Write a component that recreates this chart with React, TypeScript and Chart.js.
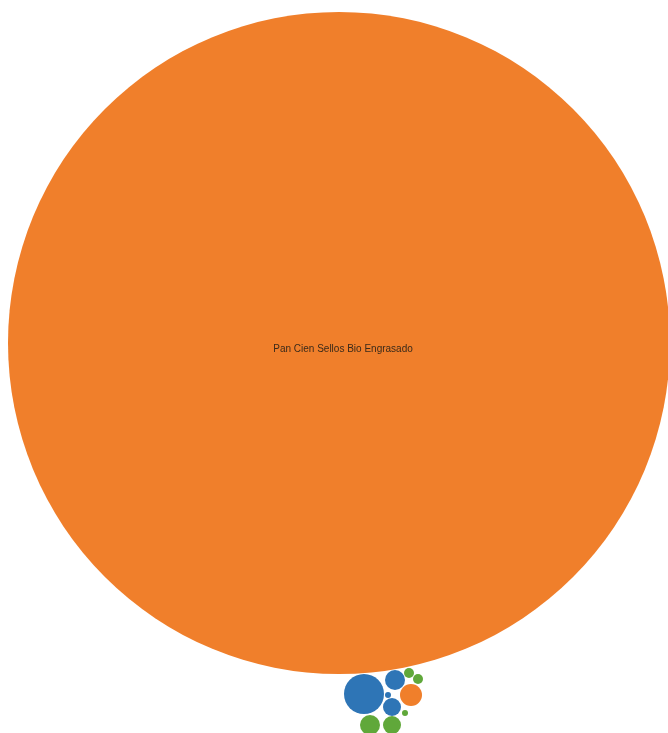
import React, { useEffect, useRef } from "react";
import { Chart, registerables } from "chart.js";

Chart.register(...registerables);

// Packed bubble layout (x, y in layout units, r = bubble radius)
const orangeNames = ["Pan Cien Sellos Bio Engrasado", "Orange 2"];
const orangeX = [331, 403];
const orangeY = [335, 687];
const orangeR = [331, 11];

const blueNames = ["Blue 1", "Blue 2", "Blue 3", "Blue 4"];
const blueX = [356, 387, 384, 380];
const blueY = [686, 672, 699, 687];
const blueR = [20, 10, 9, 3];

const greenNames = ["Green 1", "Green 2", "Green 3", "Green 4", "Green 5"];
const greenX = [401, 410, 362, 384, 397];
const greenY = [665, 671, 717, 717, 705];
const greenR = [5, 5, 10, 9, 3];

const labelled = ["Pan Cien Sellos Bio Engrasado"];

const mk = (xs: number[], ys: number[], rs: number[]) =>
  xs.map((x, i) => ({ x, y: ys[i], r: rs[i] }));

export default function App() {
  const ref = useRef<HTMLCanvasElement>(null);
  useEffect(() => {
    if (!ref.current) return;
    const labelPlugin = {
      id: "bubbleLabels",
      afterDatasetsDraw(chart: any) {
        const ctx = chart.ctx;
        const sets = [orangeNames, blueNames, greenNames];
        chart.data.datasets.forEach((ds: any, di: number) => {
          const meta = chart.getDatasetMeta(di);
          meta.data.forEach((el: any, i: number) => {
            const name = sets[di][i];
            if (!labelled.includes(name)) return;
            ctx.save();
            ctx.fillStyle = "#3a2a1a";
            ctx.font = "10px 'Liberation Sans', Arial, sans-serif";
            ctx.textAlign = "center";
            ctx.textBaseline = "middle";
            ctx.fillText(name, el.x + 4, el.y + 6);
            ctx.restore();
          });
        });
      },
    };
    const chart = new Chart(ref.current, {
      type: "bubble",
      data: {
        datasets: [
          {
            label: "Orange",
            data: mk(orangeX, orangeY, orangeR),
            backgroundColor: "rgb(240,127,43)",
            borderWidth: 0,
            clip: false as any,
            order: 5,
          },
          {
            label: "Blue",
            data: mk(blueX, blueY, blueR),
            backgroundColor: "rgb(46,117,182)",
            borderWidth: 0,
            clip: false as any,
            order: 1,
          },
          {
            label: "Green",
            data: mk(greenX, greenY, greenR),
            backgroundColor: "rgb(96,168,58)",
            borderWidth: 0,
            clip: false as any,
            order: 2,
          },
        ],
      },
      options: {
        animation: false,
        responsive: true,
        maintainAspectRatio: false,
        layout: { padding: 0, autoPadding: false },
        events: [],
        plugins: { legend: { display: false }, tooltip: { enabled: false } },
        scales: {
          x: { type: "linear", min: 0, max: 660, display: false },
          y: { type: "linear", min: 0, max: 725, reverse: true, display: false },
        },
      },
      plugins: [labelPlugin],
    });
    return () => chart.destroy();
  }, []);
  return (
    <div style={{ width: 660, height: 725, position: "absolute", left: 8, top: 8 }}>
      <canvas ref={ref} />
    </div>
  );
}
